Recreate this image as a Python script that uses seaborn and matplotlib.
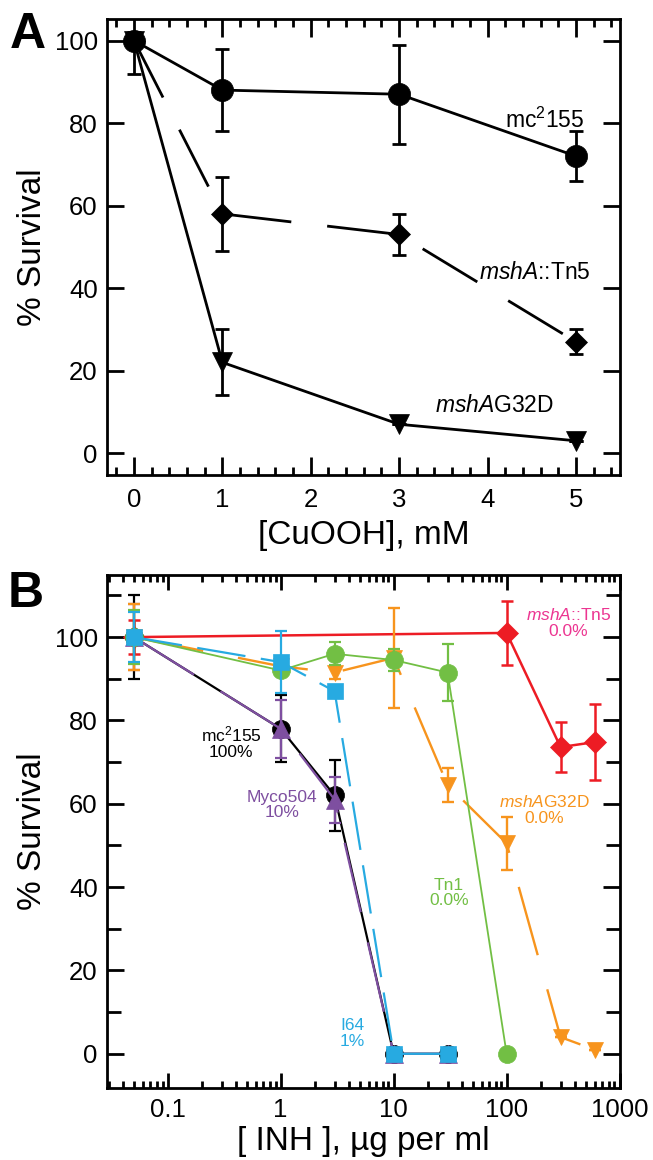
import numpy as np
import matplotlib
matplotlib.use("Agg")
import matplotlib.pyplot as plt
import matplotlib.ticker as mticker
import seaborn as sns

# --- panel A: CuOOH survival ---
cu_mM = [0, 1, 3, 5]
a_mc155 = [100, 88, 87, 72]
a_mc155_lo = [8, 10, 12, 6]
a_mc155_hi = [2, 10, 12, 6]
a_tn5 = [100, 58, 53, 27]
a_tn5_err = [0, 9, 5, 3]
a_g32d = [100, 22, 7, 3]
a_g32d_err = [0, 8, 0, 0]

# --- panel B: INH survival ---
inh_5 = [0.05, 1, 3, 10, 30]
b_mc155 = [100, 78, 62, 0, 0]
b_mc155_err = [10, 8, 8.5, 0, 0]
b_myco504 = [100, 78, 61, 0, 0]
b_myco504_err = [8, 7, 5.5, 0, 0]
b_i64 = [100, 94, 87, 0, 0]
b_i64_err = [6, 7.5, 0, 0, 0]
inh_tn1 = [0.05, 1, 3, 10, 30, 100]
b_tn1 = [100, 92, 96, 94.5, 91.5, 0]
b_tn1_err = [6.5, 0, 2.8, 2.6, 6.8, 0]
inh_g32d = [0.05, 1, 3, 10, 30, 100, 300, 600]
b_g32d = [100, 93, 91.5, 95, 64.5, 50.5, 4, 1]
b_g32d_err = [8, 0, 1.5, 12, 4, 6.3, 0, 0]
inh_tn5 = [0.05, 100, 300, 600]
b_tn5 = [100, 101, 73.6, 74.8]
b_tn5_err = [4, 7.7, 6, 9.1]

BLACK = "#000000"
RED = "#ED1C24"
ORANGE = "#F7941D"
GREEN = "#72BF44"
CYAN = "#27AAE1"
PURPLE = "#7E4FA0"
PINK = "#EC3591"

sns.set_style("ticks")
plt.rcParams["font.family"] = ["Liberation Sans", "DejaVu Sans"]
plt.rcParams["mathtext.fontset"] = "custom"
plt.rcParams["mathtext.rm"] = "Liberation Sans"
plt.rcParams["mathtext.it"] = "Liberation Sans:italic"
for key in ("text.color", "axes.labelcolor", "xtick.color", "ytick.color", "axes.edgecolor"):
    plt.rcParams[key] = "black"

fig = plt.figure(figsize=(6.53, 11.6), dpi=100)
axA = fig.add_axes([0.1646, 0.5905, 0.785, 0.393])
axB = fig.add_axes([0.1646, 0.0621, 0.785, 0.4422])


def series(ax, x, y, err, color, marker, ms, lw, ls="-", z=2, capsize=5, elw=None):
    ax.errorbar(x, y, yerr=err, fmt="none", ecolor=color, elinewidth=elw or lw,
                capsize=capsize, capthick=elw or lw, zorder=z)
    sns.lineplot(x=x, y=y, ax=ax, color=color, marker=marker, markersize=ms,
                 linewidth=lw, linestyle=ls, markeredgecolor=color,
                 markeredgewidth=0.5, zorder=z + 0.5, sort=False)


# ---------------- Panel A ----------------
series(axA, cu_mM, a_mc155, [a_mc155_lo, a_mc155_hi], BLACK, "o", 16, 2)
series(axA, cu_mM, a_tn5, a_tn5_err, BLACK, "D", 11, 2, ls=(0, (23, 13)))
series(axA, cu_mM, a_g32d, a_g32d_err, BLACK, "v", 15, 2)

axA.set_xlim(-0.3, 5.5)
axA.set_ylim(-5.3, 105.2)
axA.xaxis.set_major_locator(mticker.MultipleLocator(1))
axA.xaxis.set_minor_locator(mticker.MultipleLocator(0.2))
axA.yaxis.set_major_locator(mticker.MultipleLocator(20))
axA.tick_params(which="both", direction="in", top=True, right=True,
                labelsize=18.5, width=2, color="black", labelcolor="black")
axA.tick_params(axis="x", which="major", length=13, pad=9)
axA.tick_params(axis="x", which="minor", length=6)
axA.tick_params(axis="y", which="major", length=12, pad=7)
axA.set_xlabel("[CuOOH], mM", fontsize=24, labelpad=6)
axA.set_ylabel("% Survival", fontsize=24, labelpad=5)

axA.text(4.65, 80.6, "mc$^{2}$155", fontsize=16.5, ha="center", va="center")
axA.text(4.53, 43.9, r"$\mathit{mshA}$::Tn5", fontsize=16.5, ha="center", va="center")
axA.text(4.08, 11.6, r"$\mathit{mshA}$G32D", fontsize=16.5, ha="center", va="center")

# ---------------- Panel B ----------------
series(axB, inh_tn5, b_tn5, b_tn5_err, RED, "D", 11, 1.8, z=2, capsize=4.5)
series(axB, inh_5, b_mc155, b_mc155_err, BLACK, "o", 13, 1.6, z=3, capsize=4.5)
series(axB, inh_5, b_myco504, b_myco504_err, PURPLE, "^", 12.5, 1.6,
       ls=(0, (32, 14)), z=4, capsize=4.5)
series(axB, inh_g32d, b_g32d, b_g32d_err, ORANGE, "v", 12, 1.7,
       ls=(0, (30, 15)), z=5, capsize=4.5)
series(axB, inh_tn1, b_tn1, b_tn1_err, GREEN, "o", 13, 1.3, z=6, capsize=4.5, elw=1.6)
series(axB, inh_5, b_i64, b_i64_err, CYAN, "s", 12, 1.6,
       ls=(0, (22, 7)), z=7, capsize=4.5)

axB.set_xscale("log")
axB.set_xlim(0.0293, 1010)
axB.set_ylim(-8.2, 114.9)
axB.xaxis.set_major_locator(mticker.FixedLocator([0.1, 1, 10, 100, 1000]))
axB.xaxis.set_major_formatter(mticker.FuncFormatter(lambda v, _: f"{v:g}"))
axB.xaxis.set_minor_locator(mticker.LogLocator(base=10, subs=np.arange(2, 10), numticks=20))
axB.xaxis.set_minor_formatter(mticker.NullFormatter())
axB.yaxis.set_major_locator(mticker.MultipleLocator(20))
axB.yaxis.set_minor_locator(mticker.MultipleLocator(10))
axB.tick_params(which="both", direction="in", top=True, right=True,
                labelsize=18.5, width=2, color="black", labelcolor="black")
axB.tick_params(axis="x", which="major", length=11, pad=7)
axB.tick_params(axis="x", which="minor", length=5)
axB.tick_params(axis="y", which="major", length=12, pad=7)
axB.tick_params(axis="y", which="minor", length=10)
axB.set_xlabel("[ INH ], µg per ml", fontsize=24, labelpad=3)
axB.set_ylabel("% Survival", fontsize=24, labelpad=5)

lab = dict(fontsize=12.5, ha="center", va="center", multialignment="center",
           linespacing=1.05)
axB.text(0.363, 74.8, "mc$^{2}$155\n100%", color=BLACK, **lab)
axB.text(1.03, 59.7, "Myco504\n10%", color=PURPLE, **lab)
axB.text(4.3, 4.8, "I64\n1%", color=CYAN, **lab)
axB.text(31, 38.6, "Tn1\n0.0%", color=GREEN, **lab)
axB.text(215, 58.5, r"$\mathit{mshA}$G32D" + "\n0.0%", color=ORANGE, **lab)
axB.text(352, 103.4, r"$\mathit{mshA}$::Tn5" + "\n0.0%", color=PINK, **lab)

for ax in (axA, axB):
    for sp in ax.spines.values():
        sp.set_linewidth(2)
        sp.set_color("black")
        sp.set_visible(True)

fig.text(10 / 653, 1 - 48 / 1160, "A", fontsize=36, fontweight="bold",
         va="baseline", color="black")
fig.text(8 / 653, 1 - 607 / 1160, "B", fontsize=36, fontweight="bold",
         va="baseline", color="black")

fig.savefig("out.png", dpi=100)
